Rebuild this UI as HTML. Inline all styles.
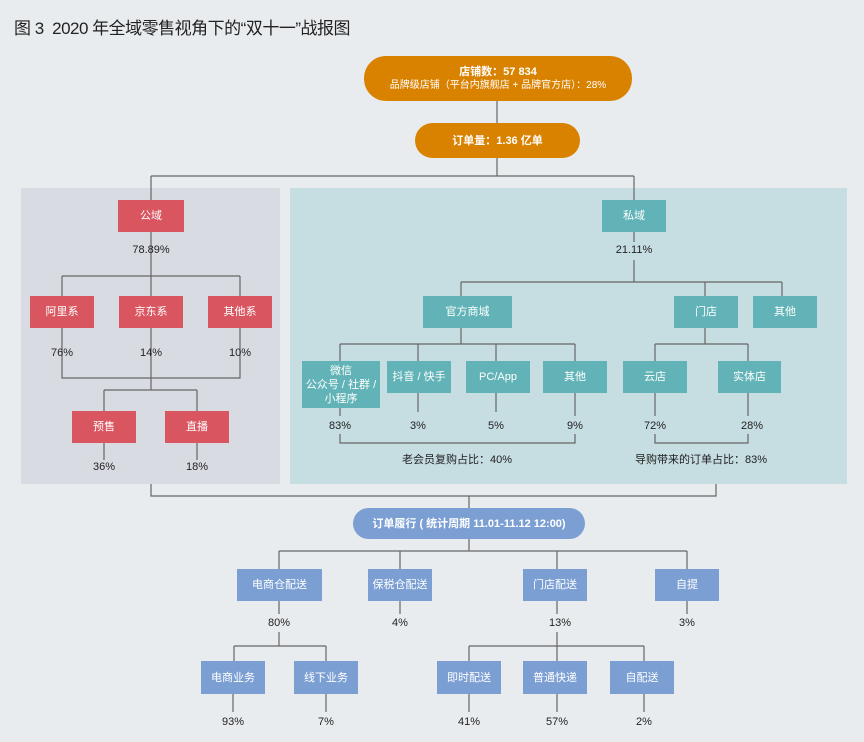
<!DOCTYPE html>
<html><head><meta charset="utf-8"><style>
body{margin:0;width:864px;height:742px;background:#e9ecef;position:relative;overflow:hidden;font-family:"Liberation Sans","Noto Sans CJK SC",sans-serif;}
.a{position:absolute;}
.b{position:absolute;display:flex;align-items:center;justify-content:center;text-align:center;color:#fff;font-size:11px;line-height:14px;}
.r{background:#d9555f;}.t{background:#62b3b7;}.u{background:#7b9fd3;}.o{background:#d98200;border-radius:22px;font-weight:bold;}
.p{position:absolute;font-size:11px;color:#222;transform:translateX(-50%);white-space:nowrap;}
</style></head><body>
<div class="a" style="left:14px;top:14px;font-size:17px;color:#222;letter-spacing:-0.5px;">图 3&nbsp; 2020 年全域零售视角下的“双十一”战报图</div>
<div class="a" style="left:21px;top:188px;width:259px;height:296px;background:#d8dbe2;"></div>
<div class="a" style="left:290px;top:188px;width:557px;height:296px;background:#c6dde1;"></div>
<svg class="a" style="left:0;top:0" width="864" height="742" fill="none" stroke="#666" stroke-width="1.2">
<path d="M497 101V123M497 158V176M151 176H634M151 176V200M634 176V200"/>
<path d="M151 232V276M62 276H240M62 276V296M151 276V296M240 276V296M62 328V378H240V328M151 328V390M104 390H197M104 390V411M197 390V411M104 443V460M197 443V460"/>
<path d="M634 232V242M634 260V282M461 282H782M461 282V296M705 282V296M782 282V296"/>
<path d="M461 328V344M340 344H575M340 344V361M418 344V361M496 344V361M575 344V361M418 393V412M496 393V412M340 408V416M575 393V416M340 434V443H575V434"/>
<path d="M705 328V344M655 344H748M655 344V361M748 344V361M655 393V416M748 393V416M655 434V443H748V434"/>
<path d="M151 484V496H716V484M469 496V508M469 539V551M279 551H687M279 551V569M400 551V569M557 551V569M687 551V569"/>
<path d="M279 601V614M400 601V614M557 601V614M687 601V614M279 632V646M234 646H326M234 646V661M326 646V661M557 632V646M469 646H644M469 646V661M557 646V661M644 646V661"/>
<path d="M233 694V712M326 694V712M469 694V712M557 694V712M644 694V712"/>
</svg>
<div class="b o" style="left:364px;top:56px;width:268px;height:45px;flex-direction:column;font-size:10px;"><div style="font-size:11px">店铺数：57 834</div><div style="font-weight:normal">品牌级店铺（平台内旗舰店 + 品牌官方店）：28%</div></div>
<div class="b o" style="left:415px;top:123px;width:165px;height:35px;">订单量：1.36 亿单</div>
<div class="b r" style="left:118px;top:200px;width:66px;height:32px;">公域</div>
<div class="p" style="left:151px;top:244px;">78.89%</div>
<div class="b r" style="left:30px;top:296px;width:64px;height:32px;">阿里系</div>
<div class="b r" style="left:119px;top:296px;width:64px;height:32px;">京东系</div>
<div class="b r" style="left:208px;top:296px;width:64px;height:32px;">其他系</div>
<div class="p" style="left:62px;top:347px;">76%</div><div class="p" style="left:151px;top:347px;">14%</div><div class="p" style="left:240px;top:347px;">10%</div>
<div class="b r" style="left:72px;top:411px;width:64px;height:32px;">预售</div>
<div class="b r" style="left:165px;top:411px;width:64px;height:32px;">直播</div>
<div class="p" style="left:104px;top:461px;">36%</div><div class="p" style="left:197px;top:461px;">18%</div>
<div class="b t" style="left:602px;top:200px;width:64px;height:32px;">私域</div>
<div class="p" style="left:634px;top:244px;">21.11%</div>
<div class="b t" style="left:423px;top:296px;width:89px;height:32px;">官方商城</div>
<div class="b t" style="left:674px;top:296px;width:64px;height:32px;">门店</div>
<div class="b t" style="left:753px;top:296px;width:64px;height:32px;">其他</div>
<div class="b t" style="left:302px;top:361px;width:78px;height:47px;">微信<br>公众号 / 社群 /<br>小程序</div>
<div class="b t" style="left:387px;top:361px;width:64px;height:32px;">抖音 / 快手</div>
<div class="b t" style="left:466px;top:361px;width:64px;height:32px;">PC/App</div>
<div class="b t" style="left:543px;top:361px;width:64px;height:32px;">其他</div>
<div class="b t" style="left:623px;top:361px;width:64px;height:32px;">云店</div>
<div class="b t" style="left:718px;top:361px;width:63px;height:32px;">实体店</div>
<div class="p" style="left:340px;top:420px;">83%</div><div class="p" style="left:418px;top:420px;">3%</div><div class="p" style="left:496px;top:420px;">5%</div><div class="p" style="left:575px;top:420px;">9%</div><div class="p" style="left:655px;top:420px;">72%</div><div class="p" style="left:752px;top:420px;">28%</div>
<div class="p" style="left:457px;top:451px;">老会员复购占比：40%</div>
<div class="p" style="left:701px;top:451px;">导购带来的订单占比：83%</div>
<div class="b u" style="left:353px;top:508px;width:232px;height:31px;border-radius:16px;font-weight:bold;">订单履行 ( 统计周期 11.01-11.12 12:00)</div>
<div class="b u" style="left:237px;top:569px;width:85px;height:32px;">电商仓配送</div>
<div class="b u" style="left:368px;top:569px;width:64px;height:32px;">保税仓配送</div>
<div class="b u" style="left:523px;top:569px;width:64px;height:32px;">门店配送</div>
<div class="b u" style="left:655px;top:569px;width:64px;height:32px;">自提</div>
<div class="p" style="left:279px;top:617px;">80%</div><div class="p" style="left:400px;top:617px;">4%</div><div class="p" style="left:560px;top:617px;">13%</div><div class="p" style="left:687px;top:617px;">3%</div>
<div class="b u" style="left:201px;top:661px;width:64px;height:33px;">电商业务</div>
<div class="b u" style="left:294px;top:661px;width:64px;height:33px;">线下业务</div>
<div class="b u" style="left:437px;top:661px;width:64px;height:33px;">即时配送</div>
<div class="b u" style="left:523px;top:661px;width:64px;height:33px;">普通快递</div>
<div class="b u" style="left:610px;top:661px;width:64px;height:33px;">自配送</div>
<div class="p" style="left:233px;top:716px;">93%</div><div class="p" style="left:326px;top:716px;">7%</div><div class="p" style="left:469px;top:716px;">41%</div><div class="p" style="left:557px;top:716px;">57%</div><div class="p" style="left:644px;top:716px;">2%</div>
</body></html>
